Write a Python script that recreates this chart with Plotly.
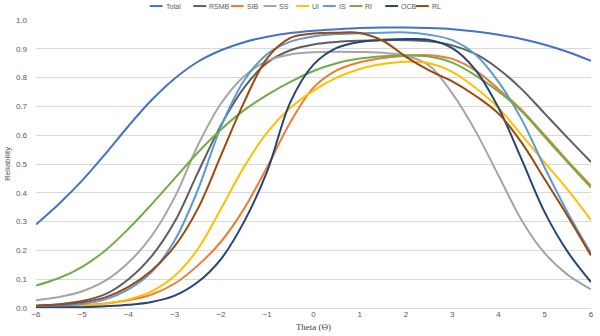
import plotly.graph_objects as go

theta = [-6, -5.5, -5, -4.5, -4, -3.5, -3, -2.5, -2, -1.5, -1, -0.5, 0,
         0.5, 1, 1.5, 2, 2.5, 3, 3.5, 4, 4.5, 5, 5.5, 6]

total = [0.29, 0.362, 0.443, 0.535, 0.632, 0.722, 0.797, 0.855, 0.895, 0.923, 0.942, 0.955, 0.963,
         0.968, 0.972, 0.974, 0.974, 0.972, 0.968, 0.96, 0.949, 0.934, 0.914, 0.889, 0.858]
rsmb = [0.008, 0.013, 0.024, 0.048, 0.10, 0.18, 0.30, 0.47, 0.635, 0.765, 0.852, 0.895, 0.915,
        0.924, 0.928, 0.93, 0.93, 0.926, 0.912, 0.882, 0.83, 0.76, 0.675, 0.59, 0.507]
sib = [0.004, 0.006, 0.01, 0.016, 0.027, 0.047, 0.085, 0.148, 0.23, 0.345, 0.49, 0.645, 0.765,
       0.825, 0.853, 0.868, 0.876, 0.878, 0.865, 0.825, 0.76, 0.688, 0.6, 0.51, 0.425]
ss = [0.027, 0.038, 0.058, 0.095, 0.158, 0.25, 0.385, 0.565, 0.71, 0.805, 0.858, 0.88, 0.888,
      0.89, 0.889, 0.886, 0.876, 0.842, 0.745, 0.615, 0.46, 0.305, 0.19, 0.115, 0.065]
ui = [0.003, 0.005, 0.008, 0.015, 0.03, 0.058, 0.112, 0.205, 0.345, 0.49, 0.61, 0.695, 0.755,
      0.80, 0.83, 0.847, 0.855, 0.85, 0.82, 0.765, 0.695, 0.60, 0.505, 0.41, 0.305]
is_ = [0.005, 0.008, 0.014, 0.03, 0.065, 0.125, 0.235, 0.41, 0.63, 0.79, 0.882, 0.925, 0.943,
       0.951, 0.954, 0.956, 0.957, 0.949, 0.93, 0.88, 0.785, 0.655, 0.487, 0.33, 0.19]
ri = [0.078, 0.104, 0.143, 0.2, 0.275, 0.36, 0.45, 0.54, 0.62, 0.687, 0.74, 0.785, 0.823,
      0.85, 0.866, 0.874, 0.878, 0.873, 0.852, 0.808, 0.752, 0.683, 0.594, 0.505, 0.418]
ocb = [0.001, 0.002, 0.003, 0.006, 0.011, 0.021, 0.043, 0.09, 0.17, 0.30, 0.475, 0.715, 0.845,
       0.903, 0.924, 0.931, 0.934, 0.931, 0.902, 0.827, 0.695, 0.516, 0.332, 0.194, 0.09]
rl = [0.008, 0.012, 0.02, 0.037, 0.073, 0.13, 0.215, 0.345, 0.53, 0.715, 0.868, 0.938, 0.953,
      0.956, 0.955, 0.928, 0.872, 0.825, 0.787, 0.737, 0.675, 0.574, 0.447, 0.318, 0.182]

names = ["Total", "RSMB", "SIB", "SS", "UI", "IS", "RI", "OCB", "RL"]
series = [total, rsmb, sib, ss, ui, is_, ri, ocb, rl]
colors = ["#4472C4", "#5E5E5E", "#ED7D31", "#A5A5A5", "#FFC000",
          "#5B9BD5", "#70AD47", "#264478", "#9E480E"]

# legend layout (pixel positions of the legend row, above the plot)
legend_x = [148, 192, 230, 263, 296, 323, 350, 386, 417]

W, H = 600, 336
ML, MR, MT, MB = 33, 6, 20, 27
PW, PH = W - ML - MR, H - MT - MB

fig = go.Figure()
for name, ys, c in zip(names, series, colors):
    fig.add_trace(go.Scatter(x=theta, y=ys, name=name, mode="lines",
                             line=dict(color=c, width=2, shape="spline", smoothing=1.0),
                             showlegend=False))

shapes = []
annotations = []
for name, c, px in zip(names, colors, legend_x):
    x0 = (px - ML) / PW
    x1 = (px + 13 - ML) / PW
    yy = (H - MB - 6) / PH
    shapes.append(dict(type="line", xref="paper", yref="paper", x0=x0, x1=x1, y0=yy, y1=yy,
                       line=dict(color=c, width=2)))
    annotations.append(dict(xref="paper", yref="paper", x=(px + 14 - ML) / PW, y=yy,
                            text=name, showarrow=False, xanchor="left", yanchor="middle",
                            font=dict(size=7, color="#595959", family="Liberation Sans")))

fig.update_layout(
    width=W, height=H,
    margin=dict(l=ML, r=MR, t=MT, b=MB),
    paper_bgcolor="white", plot_bgcolor="white",
    shapes=shapes, annotations=annotations,
    font=dict(family="Liberation Sans", size=8, color="#595959"),
)
fig.update_xaxes(range=[-6, 6], tickvals=list(range(-6, 7)), showgrid=False, zeroline=False,
                 showline=False, ticks="", tickfont=dict(size=8, color="#595959"),
                 title=dict(text="Theta (Θ)", standoff=5,
                            font=dict(family="Liberation Serif", size=9, color="#404040")))
fig.update_yaxes(range=[0, 1.0], tickvals=[i / 10 for i in range(11)],
                 ticktext=[f"{i/10:.1f}" for i in range(11)],
                 showgrid=True, gridcolor="#D9D9D9", gridwidth=1,
                 zeroline=True, zerolinecolor="#D9D9D9", zerolinewidth=1,
                 showline=False, ticks="", ticklabelstandoff=8,
                 tickfont=dict(size=8, color="#595959"),
                 title=dict(text="Reliability", standoff=4,
                            font=dict(size=8, color="#595959")))

fig.write_html("out.html")
